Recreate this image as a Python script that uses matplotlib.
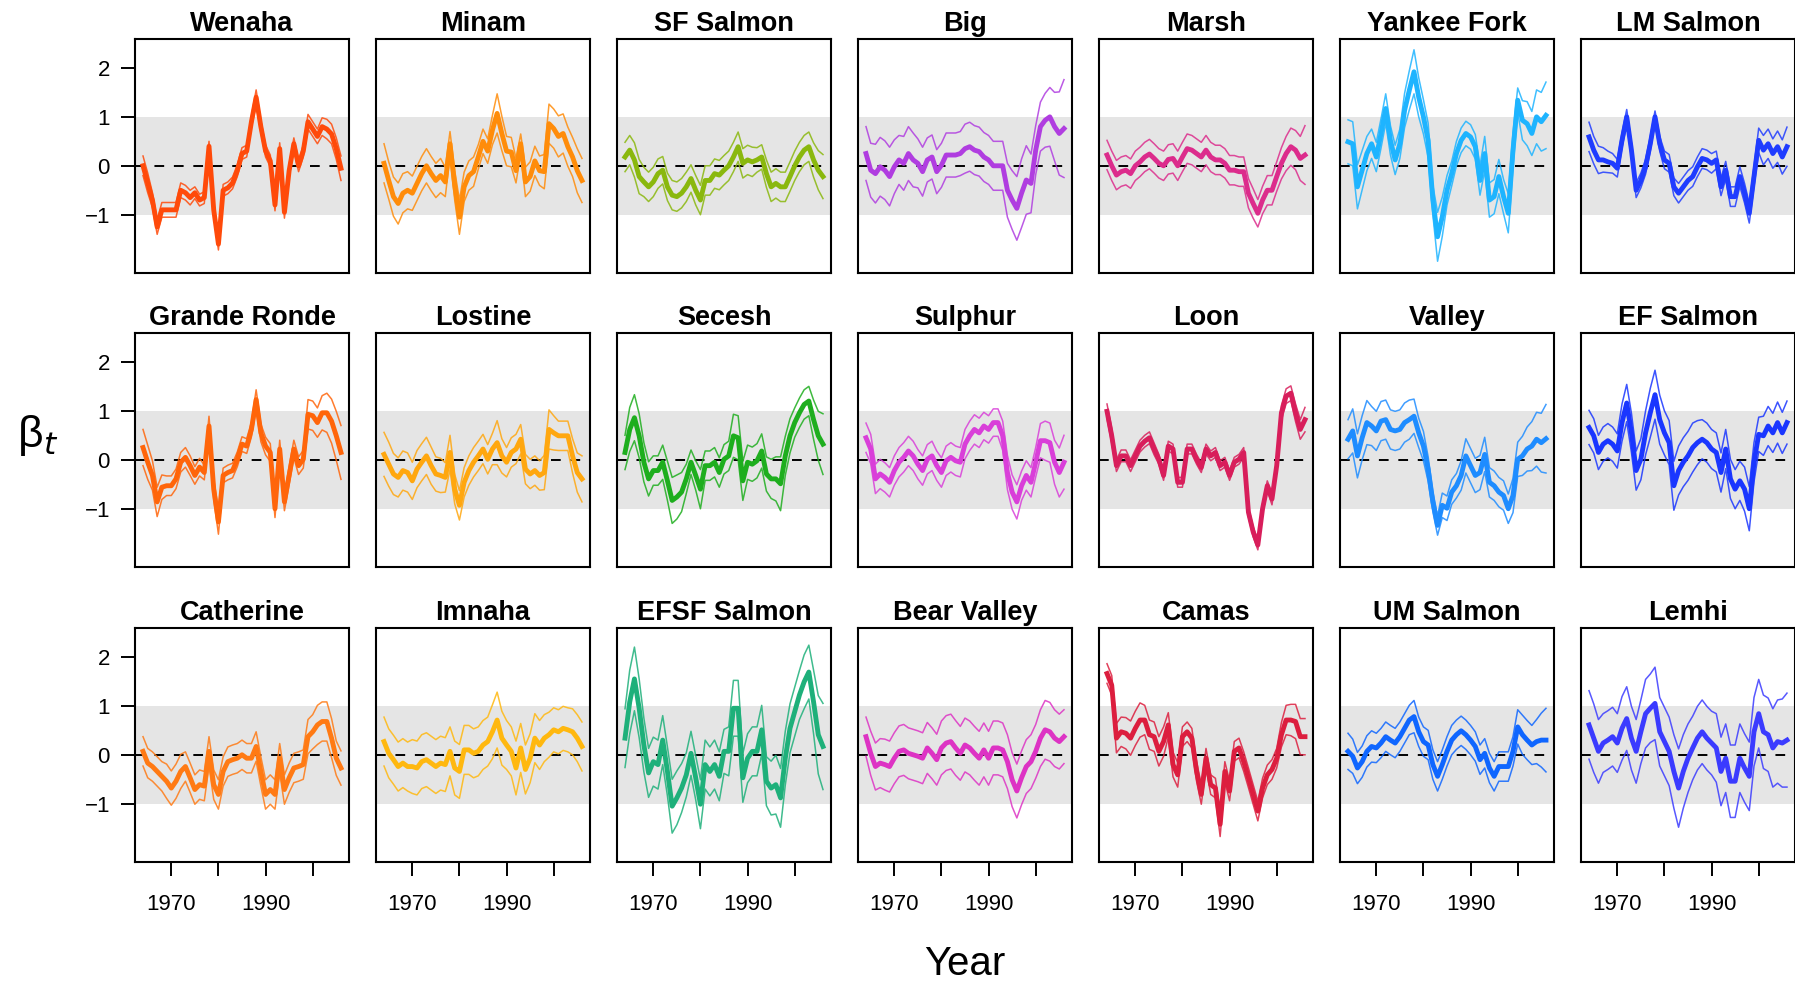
import numpy as np
import matplotlib
matplotlib.use("Agg")
import matplotlib.pyplot as plt

plt.rcParams['font.family'] = ['Liberation Sans', 'DejaVu Sans']

years = np.arange(1964, 2007)

# --- posterior means (thick) and half-width of the credible band (thin lines)
wenaha = [0.0,-0.35,-0.7,-1.25,-0.9,-0.9,-0.9,-0.9,-0.5,-0.55,-0.65,-0.55,-0.7,-0.65,0.4,-0.9,-1.6,-0.5,-0.45,-0.35,-0.1,0.25,0.3,0.9,1.4,0.8,0.3,0.1,-0.8,0.35,-0.95,-0.1,0.45,0.0,0.3,0.9,0.75,0.6,0.8,0.75,0.65,0.35,-0.05]
wenaha_ci = [0.2,0.2,0.15,0.15,0.15,0.15,0.15,0.15,0.15,0.15,0.15,0.12,0.12,0.12,0.1,0.12,0.12,0.12,0.12,0.12,0.12,0.12,0.12,0.12,0.15,0.12,0.12,0.12,0.12,0.12,0.12,0.12,0.12,0.12,0.12,0.15,0.15,0.15,0.18,0.2,0.2,0.22,0.25]

minam = [0.05,-0.3,-0.63,-0.77,-0.56,-0.5,-0.56,-0.36,-0.16,0.0,-0.16,-0.3,-0.2,-0.33,0.45,-0.4,-1.05,-0.43,-0.2,-0.12,0.18,0.5,0.3,0.73,1.07,0.66,0.3,0.28,-0.1,0.45,-0.33,-0.22,0.1,-0.1,-0.12,0.86,0.76,0.6,0.66,0.39,0.18,-0.1,-0.3]
minam_ci = [0.4,0.38,0.4,0.42,0.4,0.38,0.35,0.35,0.35,0.35,0.35,0.35,0.35,0.3,0.25,0.3,0.35,0.3,0.3,0.3,0.25,0.25,0.25,0.3,0.4,0.35,0.3,0.3,0.25,0.2,0.3,0.3,0.3,0.3,0.35,0.4,0.4,0.42,0.4,0.4,0.4,0.45,0.45]

sf_salmon = [0.18,0.32,0.12,-0.22,-0.33,-0.43,-0.33,-0.16,-0.09,-0.43,-0.6,-0.63,-0.56,-0.43,-0.26,-0.5,-0.7,-0.3,-0.3,-0.16,-0.19,-0.09,0.0,0.18,0.39,0.05,0.12,0.08,0.12,0.18,-0.16,-0.43,-0.36,-0.43,-0.43,-0.22,0.0,0.18,0.32,0.39,0.12,-0.09,-0.22]
sf_salmon_ci = [0.3,0.3,0.35,0.35,0.3,0.3,0.3,0.3,0.28,0.28,0.3,0.3,0.3,0.3,0.28,0.3,0.3,0.3,0.3,0.3,0.3,0.3,0.3,0.3,0.3,0.3,0.3,0.3,0.25,0.25,0.28,0.3,0.3,0.3,0.3,0.3,0.3,0.3,0.3,0.3,0.35,0.4,0.45]

big = [0.25,-0.09,-0.16,-0.02,-0.09,-0.22,-0.02,0.12,0.05,0.25,0.12,0.05,-0.12,0.12,0.18,-0.12,0.01,0.22,0.22,0.22,0.25,0.35,0.39,0.32,0.29,0.18,0.12,0.0,0.0,0.0,-0.5,-0.7,-0.87,-0.56,-0.29,-0.36,0.32,0.8,0.93,1.0,0.8,0.66,0.76]
big_ci = [0.55,0.55,0.6,0.6,0.6,0.6,0.55,0.5,0.55,0.55,0.55,0.5,0.5,0.45,0.45,0.45,0.45,0.45,0.45,0.45,0.45,0.5,0.5,0.5,0.5,0.5,0.5,0.5,0.5,0.5,0.55,0.6,0.65,0.7,0.7,0.6,0.5,0.5,0.55,0.6,0.7,0.85,1.0]

marsh = [0.22,0.0,-0.19,-0.12,-0.09,-0.16,0.0,0.08,0.18,0.24,0.15,0.05,0.0,0.13,0.15,0.0,0.18,0.35,0.32,0.25,0.18,0.32,0.18,0.12,0.12,0.05,-0.09,-0.09,-0.12,-0.12,-0.56,-0.77,-0.97,-0.7,-0.5,-0.5,-0.22,0.05,0.25,0.39,0.32,0.15,0.22]
marsh_ci = [0.3,0.3,0.3,0.3,0.3,0.3,0.3,0.3,0.3,0.3,0.3,0.3,0.3,0.3,0.3,0.3,0.3,0.3,0.3,0.3,0.3,0.3,0.3,0.3,0.3,0.3,0.3,0.3,0.3,0.3,0.3,0.3,0.28,0.28,0.3,0.3,0.3,0.32,0.35,0.38,0.4,0.45,0.6]

yankee_fork = [0.49,0.45,-0.43,-0.09,0.25,0.45,0.18,0.66,1.17,0.52,0.12,0.45,1.13,1.54,1.92,1.4,1.0,0.52,-0.7,-1.45,-1.04,-0.5,-0.16,0.25,0.52,0.66,0.59,0.39,-0.3,0.25,-0.7,-0.63,-0.22,-0.63,-0.97,0.32,1.34,0.93,0.86,0.66,1.0,0.9,1.03]
yankee_fork_ci = [0.45,0.45,0.45,0.4,0.35,0.3,0.3,0.3,0.3,0.3,0.3,0.3,0.35,0.4,0.45,0.4,0.35,0.35,0.3,0.5,0.4,0.3,0.25,0.25,0.25,0.25,0.25,0.25,0.3,0.35,0.35,0.35,0.35,0.35,0.4,0.35,0.25,0.4,0.45,0.45,0.55,0.6,0.68]

lm_salmon = [0.59,0.32,0.12,0.12,0.08,0.05,-0.05,0.52,1.0,0.32,-0.5,-0.3,-0.02,0.45,1.0,0.45,0.12,0.05,-0.43,-0.56,-0.43,-0.3,-0.22,-0.02,0.15,0.12,0.05,0.12,-0.43,-0.09,-0.63,-0.63,-0.22,-0.56,-0.97,-0.22,0.52,0.32,0.45,0.25,0.39,0.18,0.39]
lm_salmon_ci = [0.3,0.28,0.28,0.25,0.22,0.2,0.18,0.15,0.15,0.15,0.15,0.15,0.15,0.15,0.12,0.15,0.18,0.18,0.18,0.2,0.2,0.2,0.2,0.2,0.2,0.2,0.2,0.18,0.18,0.18,0.2,0.2,0.2,0.2,0.2,0.2,0.25,0.3,0.3,0.3,0.32,0.35,0.4]

grande_ronde = [0.25,-0.05,-0.32,-0.86,-0.56,-0.53,-0.53,-0.39,-0.05,0.05,-0.12,-0.32,-0.15,-0.26,0.69,-0.6,-1.27,-0.32,-0.26,-0.22,0.01,0.32,0.28,0.62,1.23,0.55,0.28,0.15,-1.0,0.22,-0.86,-0.32,0.22,-0.12,0.01,0.93,0.9,0.76,0.96,0.96,0.79,0.49,0.15]
grande_ronde_ci = [0.37,0.35,0.3,0.3,0.25,0.2,0.2,0.2,0.2,0.2,0.2,0.18,0.18,0.15,0.2,0.2,0.25,0.15,0.15,0.15,0.15,0.15,0.15,0.15,0.2,0.18,0.18,0.18,0.18,0.18,0.18,0.18,0.18,0.18,0.18,0.3,0.3,0.3,0.35,0.4,0.45,0.5,0.55]

lostine = [0.11,-0.09,-0.29,-0.36,-0.22,-0.26,-0.43,-0.19,-0.05,0.08,-0.12,-0.29,-0.32,-0.36,0.15,-0.6,-0.93,-0.46,-0.22,-0.05,0.08,0.22,0.01,0.22,0.35,0.08,-0.05,0.15,0.22,0.42,-0.19,-0.29,-0.22,-0.32,-0.26,0.62,0.55,0.49,0.49,0.49,0.08,-0.26,-0.39]
lostine_ci = [0.45,0.45,0.42,0.4,0.4,0.4,0.38,0.38,0.38,0.38,0.38,0.35,0.35,0.3,0.35,0.3,0.3,0.3,0.3,0.3,0.3,0.3,0.3,0.32,0.45,0.35,0.3,0.3,0.3,0.3,0.3,0.3,0.3,0.3,0.35,0.4,0.35,0.3,0.3,0.3,0.35,0.4,0.47]

secesh = [0.15,0.62,0.86,0.49,-0.05,-0.39,-0.22,-0.22,-0.05,-0.43,-0.83,-0.76,-0.66,-0.39,-0.05,-0.32,-0.6,-0.12,-0.12,-0.05,-0.26,0.01,0.08,0.49,0.45,-0.43,-0.05,-0.09,-0.02,0.18,-0.29,-0.39,-0.39,-0.49,0.08,0.49,0.76,0.96,1.13,1.2,0.82,0.49,0.32]
secesh_ci = [0.35,0.45,0.47,0.45,0.4,0.35,0.3,0.3,0.35,0.4,0.47,0.45,0.4,0.3,0.25,0.3,0.4,0.3,0.3,0.3,0.3,0.3,0.3,0.44,0.45,0.4,0.35,0.35,0.35,0.35,0.35,0.4,0.45,0.55,0.4,0.35,0.3,0.3,0.3,0.3,0.4,0.5,0.62]

sulphur = [0.45,0.22,-0.39,-0.29,-0.36,-0.46,-0.22,-0.05,0.05,0.18,0.08,-0.09,-0.22,0.01,0.08,-0.12,-0.26,-0.02,0.05,-0.02,-0.05,0.32,0.49,0.62,0.55,0.69,0.62,0.76,0.76,0.49,-0.26,-0.66,-0.86,-0.53,-0.32,-0.46,-0.05,0.39,0.39,0.35,-0.05,-0.26,-0.05]
sulphur_ci = [0.3,0.3,0.3,0.3,0.3,0.3,0.3,0.3,0.3,0.3,0.3,0.3,0.3,0.3,0.3,0.3,0.3,0.3,0.3,0.3,0.3,0.3,0.3,0.3,0.3,0.28,0.28,0.28,0.28,0.3,0.35,0.35,0.35,0.3,0.3,0.3,0.3,0.35,0.4,0.4,0.45,0.5,0.55]

loon = [0.99,0.49,-0.12,0.08,0.08,-0.12,0.08,0.28,0.38,0.45,0.22,0.01,-0.32,0.28,0.22,-0.46,-0.46,0.22,0.22,0.01,-0.16,0.22,0.08,0.15,-0.12,-0.05,-0.32,-0.05,0.01,0.15,-1.07,-1.47,-1.74,-1.0,-0.53,-0.8,-0.12,0.96,1.3,1.36,0.96,0.62,0.82]
loon_ci = [0.15,0.15,0.12,0.12,0.12,0.12,0.12,0.12,0.12,0.12,0.12,0.1,0.1,0.1,0.1,0.1,0.1,0.1,0.1,0.1,0.1,0.1,0.1,0.1,0.1,0.1,0.1,0.1,0.1,0.1,0.1,0.1,0.1,0.1,0.1,0.12,0.12,0.15,0.15,0.15,0.18,0.2,0.25]

valley = [0.42,0.59,0.08,0.45,0.76,0.69,0.59,0.79,0.82,0.62,0.59,0.62,0.76,0.82,0.89,0.55,0.28,-0.19,-0.86,-1.34,-0.93,-0.99,-0.66,-0.53,-0.32,0.08,-0.12,-0.32,-0.26,0.11,-0.46,-0.53,-0.66,-0.73,-1.0,-0.73,0.01,0.08,0.22,0.28,0.42,0.35,0.43]
valley_ci = [0.4,0.45,0.45,0.45,0.45,0.4,0.4,0.4,0.4,0.4,0.4,0.4,0.4,0.4,0.35,0.3,0.3,0.25,0.2,0.2,0.25,0.25,0.25,0.25,0.3,0.35,0.35,0.35,0.35,0.35,0.3,0.3,0.3,0.3,0.3,0.35,0.35,0.4,0.45,0.5,0.55,0.6,0.7]

ef_salmon = [0.66,0.49,0.15,0.32,0.39,0.32,0.18,0.76,1.16,0.55,-0.22,0.01,0.55,0.96,1.33,0.82,0.55,0.35,-0.53,-0.22,-0.05,0.08,0.25,0.35,0.42,0.35,0.22,0.15,-0.26,0.22,-0.39,-0.6,-0.43,-0.6,-1.0,-0.05,0.52,0.49,0.69,0.55,0.76,0.55,0.76]
ef_salmon_ci = [0.35,0.35,0.35,0.35,0.35,0.35,0.35,0.38,0.38,0.4,0.4,0.42,0.45,0.5,0.5,0.5,0.45,0.45,0.5,0.5,0.5,0.5,0.5,0.45,0.4,0.4,0.4,0.4,0.4,0.4,0.4,0.4,0.4,0.45,0.45,0.4,0.35,0.4,0.4,0.4,0.42,0.42,0.44]

catherine = [0.07,-0.17,-0.24,-0.34,-0.44,-0.54,-0.68,-0.54,-0.34,-0.24,-0.47,-0.71,-0.61,-0.64,0.07,-0.61,-0.81,-0.34,-0.14,-0.1,-0.07,0.0,-0.07,-0.07,0.17,-0.34,-0.81,-0.71,-0.81,-0.07,-0.71,-0.47,-0.27,-0.24,-0.2,0.37,0.47,0.61,0.68,0.68,0.34,-0.07,-0.27]
catherine_ci = [0.3,0.3,0.3,0.3,0.3,0.35,0.35,0.35,0.35,0.3,0.3,0.3,0.3,0.3,0.3,0.3,0.3,0.3,0.3,0.3,0.3,0.3,0.3,0.3,0.3,0.3,0.3,0.3,0.3,0.3,0.3,0.3,0.3,0.3,0.3,0.35,0.35,0.4,0.4,0.4,0.4,0.35,0.35]

imnaha = [0.27,0.03,-0.1,-0.24,-0.17,-0.24,-0.24,-0.27,-0.14,-0.1,-0.17,-0.24,-0.17,-0.2,0.07,-0.27,-0.34,0.1,0.1,0.03,0.07,0.2,0.27,0.47,0.71,0.34,0.2,0.07,-0.27,0.14,-0.3,-0.07,0.34,0.2,0.34,0.41,0.51,0.47,0.54,0.51,0.47,0.34,0.17]
imnaha_ci = [0.5,0.5,0.5,0.5,0.5,0.5,0.55,0.55,0.55,0.55,0.55,0.55,0.55,0.55,0.5,0.55,0.55,0.5,0.5,0.5,0.5,0.5,0.5,0.55,0.57,0.55,0.5,0.5,0.55,0.5,0.5,0.5,0.5,0.5,0.48,0.46,0.45,0.45,0.45,0.45,0.47,0.48,0.5]

efsf_salmon = [0.34,1.08,1.55,0.95,0.2,-0.37,-0.14,-0.2,0.3,-0.34,-1.05,-0.88,-0.68,-0.41,0.03,-0.47,-1.01,-0.2,-0.34,-0.2,-0.44,0.07,0.07,0.95,0.95,-0.47,-0.07,0.07,0.07,0.51,-0.54,-0.68,-0.61,-0.88,-0.07,0.54,0.88,1.22,1.49,1.69,1.08,0.41,0.17]
efsf_salmon_ci = [0.6,0.65,0.65,0.6,0.55,0.5,0.5,0.5,0.5,0.5,0.55,0.55,0.5,0.45,0.45,0.45,0.5,0.5,0.5,0.5,0.5,0.45,0.5,0.57,0.57,0.5,0.5,0.5,0.5,0.5,0.5,0.55,0.6,0.6,0.55,0.5,0.5,0.5,0.55,0.55,0.65,0.8,0.88]

bear_valley = [0.37,0.03,-0.24,-0.17,-0.2,-0.24,-0.07,0.07,0.1,0.03,0.0,-0.03,-0.07,0.14,0.03,-0.1,0.14,0.24,0.27,0.14,0.03,0.2,0.14,0.03,-0.07,0.1,-0.07,0.14,0.14,0.1,-0.14,-0.51,-0.74,-0.47,-0.24,-0.14,0.07,0.34,0.51,0.47,0.34,0.27,0.37]
bear_valley_ci = [0.4,0.45,0.48,0.5,0.52,0.52,0.52,0.52,0.52,0.52,0.52,0.52,0.52,0.52,0.52,0.52,0.55,0.56,0.56,0.56,0.55,0.55,0.55,0.55,0.55,0.55,0.55,0.55,0.55,0.55,0.55,0.55,0.55,0.55,0.55,0.55,0.55,0.58,0.6,0.6,0.58,0.56,0.55]

camas = [1.66,1.42,0.34,0.47,0.44,0.34,0.54,0.71,0.71,0.41,0.37,0.07,0.27,0.61,-0.2,-0.41,0.37,0.47,0.34,-0.34,-0.81,-0.07,-0.61,-0.68,-1.42,-0.34,-0.74,0.07,0.14,-0.14,-0.47,-0.81,-1.15,-0.68,-0.41,-0.3,-0.07,0.41,0.71,0.71,0.68,0.37,0.37]
camas_ci = [0.2,0.2,0.3,0.3,0.32,0.35,0.35,0.35,0.3,0.3,0.3,0.3,0.3,0.25,0.25,0.25,0.2,0.2,0.2,0.2,0.2,0.2,0.2,0.2,0.25,0.2,0.2,0.2,0.2,0.2,0.2,0.2,0.2,0.2,0.2,0.2,0.2,0.25,0.3,0.32,0.35,0.37,0.37]

um_salmon = [0.07,-0.03,-0.27,-0.14,0.07,0.17,0.14,0.24,0.37,0.3,0.24,0.37,0.54,0.71,0.78,0.47,0.27,0.2,-0.2,-0.44,-0.2,0.07,0.3,0.41,0.49,0.41,0.3,0.17,-0.1,0.03,-0.27,-0.44,-0.24,-0.24,-0.24,0.07,0.57,0.41,0.3,0.2,0.27,0.3,0.3]
um_salmon_ci = [0.37,0.35,0.32,0.32,0.32,0.32,0.3,0.3,0.3,0.3,0.3,0.3,0.3,0.3,0.33,0.3,0.3,0.3,0.3,0.3,0.3,0.3,0.3,0.3,0.3,0.3,0.3,0.3,0.3,0.3,0.3,0.3,0.3,0.3,0.3,0.3,0.35,0.4,0.4,0.4,0.45,0.55,0.65]

lemhi = [0.61,0.34,0.07,0.24,0.3,0.37,0.24,0.54,0.74,0.34,0.07,0.47,0.84,0.95,1.05,0.47,0.27,0.07,-0.34,-0.68,-0.34,-0.07,0.14,0.34,0.47,0.34,0.24,0.14,-0.34,-0.07,-0.54,-0.54,-0.07,-0.27,-0.44,0.47,0.84,0.47,0.41,0.14,0.27,0.24,0.3]
lemhi_ci = [0.7,0.7,0.65,0.6,0.6,0.6,0.6,0.65,0.65,0.65,0.65,0.65,0.7,0.7,0.74,0.7,0.7,0.7,0.75,0.8,0.75,0.7,0.65,0.65,0.65,0.65,0.65,0.7,0.7,0.7,0.74,0.74,0.7,0.7,0.7,0.7,0.7,0.75,0.75,0.8,0.85,0.9,0.96]

names = ["Wenaha", "Minam", "SF Salmon", "Big", "Marsh", "Yankee Fork", "LM Salmon",
         "Grande Ronde", "Lostine", "Secesh", "Sulphur", "Loon", "Valley", "EF Salmon",
         "Catherine", "Imnaha", "EFSF Salmon", "Bear Valley", "Camas", "UM Salmon", "Lemhi"]
means = [wenaha, minam, sf_salmon, big, marsh, yankee_fork, lm_salmon,
         grande_ronde, lostine, secesh, sulphur, loon, valley, ef_salmon,
         catherine, imnaha, efsf_salmon, bear_valley, camas, um_salmon, lemhi]
cis = [wenaha_ci, minam_ci, sf_salmon_ci, big_ci, marsh_ci, yankee_fork_ci, lm_salmon_ci,
       grande_ronde_ci, lostine_ci, secesh_ci, sulphur_ci, loon_ci, valley_ci, ef_salmon_ci,
       catherine_ci, imnaha_ci, efsf_salmon_ci, bear_valley_ci, camas_ci, um_salmon_ci, lemhi_ci]
colors = ["#FF4A0A", "#FF8C0A", "#8AB80E", "#B03DE0", "#DC2C8C", "#1EB4FF", "#1F3CFF",
          "#FF650A", "#FFA70F", "#1EAE1E", "#D93FD9", "#D81E5B", "#1E8CFF", "#1A36FF",
          "#FF7A14", "#FFB80F", "#1EB07A", "#DD33C4", "#DC1E3E", "#0F66FF", "#3B3BFF"]

W, H = 1795, 988
fig = plt.figure(figsize=(W / 100, H / 100), dpi=100)

col_left = 135
col_pitch = 241
pan_w = 214
row_top = [39, 333, 628]
pan_h = 234

for k, name in enumerate(names):
    r, c = divmod(k, 7)
    x0 = col_left + c * col_pitch
    ax = fig.add_axes([x0 / W, 1 - (row_top[r] + pan_h) / H, pan_w / W, pan_h / H])
    m = np.array(means[k])
    hw = np.array(cis[k])
    ax.axhspan(-1, 1, color="#E5E5E5", lw=0, zorder=0)
    ax.axhline(0, color="black", lw=1.4, ls=(0, (5, 5)), zorder=1)
    ax.plot(years, m + hw, color=colors[k], lw=1.1, alpha=0.85, zorder=2)
    ax.plot(years, m - hw, color=colors[k], lw=1.1, alpha=0.85, zorder=2)
    ax.plot(years, m, color=colors[k], lw=3.5, zorder=3, solid_joinstyle="round")
    ax.set_xlim(1962.3, 2007.7)
    ax.set_ylim(-2.19, 2.59)
    for s in ax.spines.values():
        s.set_linewidth(1.5)
    ax.set_title(name, fontsize=19.5, fontweight="bold", pad=6)
    ax.tick_params(length=10, width=1.4, labelsize=16)
    if c == 0:
        ax.set_yticks([-1, 0, 1, 2])
        ax.tick_params(axis="y", pad=8)
    else:
        ax.set_yticks([])
    if r == 2:
        ax.set_xticks([1970, 1980, 1990, 2000])
        ax.set_xticklabels(["1970", "", "1990", ""])
        ax.tick_params(axis="x", pad=13)
    else:
        ax.set_xticks([])

fig.text(965 / W, 1 - 964 / H, "Year", fontsize=29, ha="center", va="center")
fig.text(38 / W, 1 - 435 / H, r"β$_t$", fontsize=32, ha="center", va="center")

fig.savefig("out.png", dpi=100)
